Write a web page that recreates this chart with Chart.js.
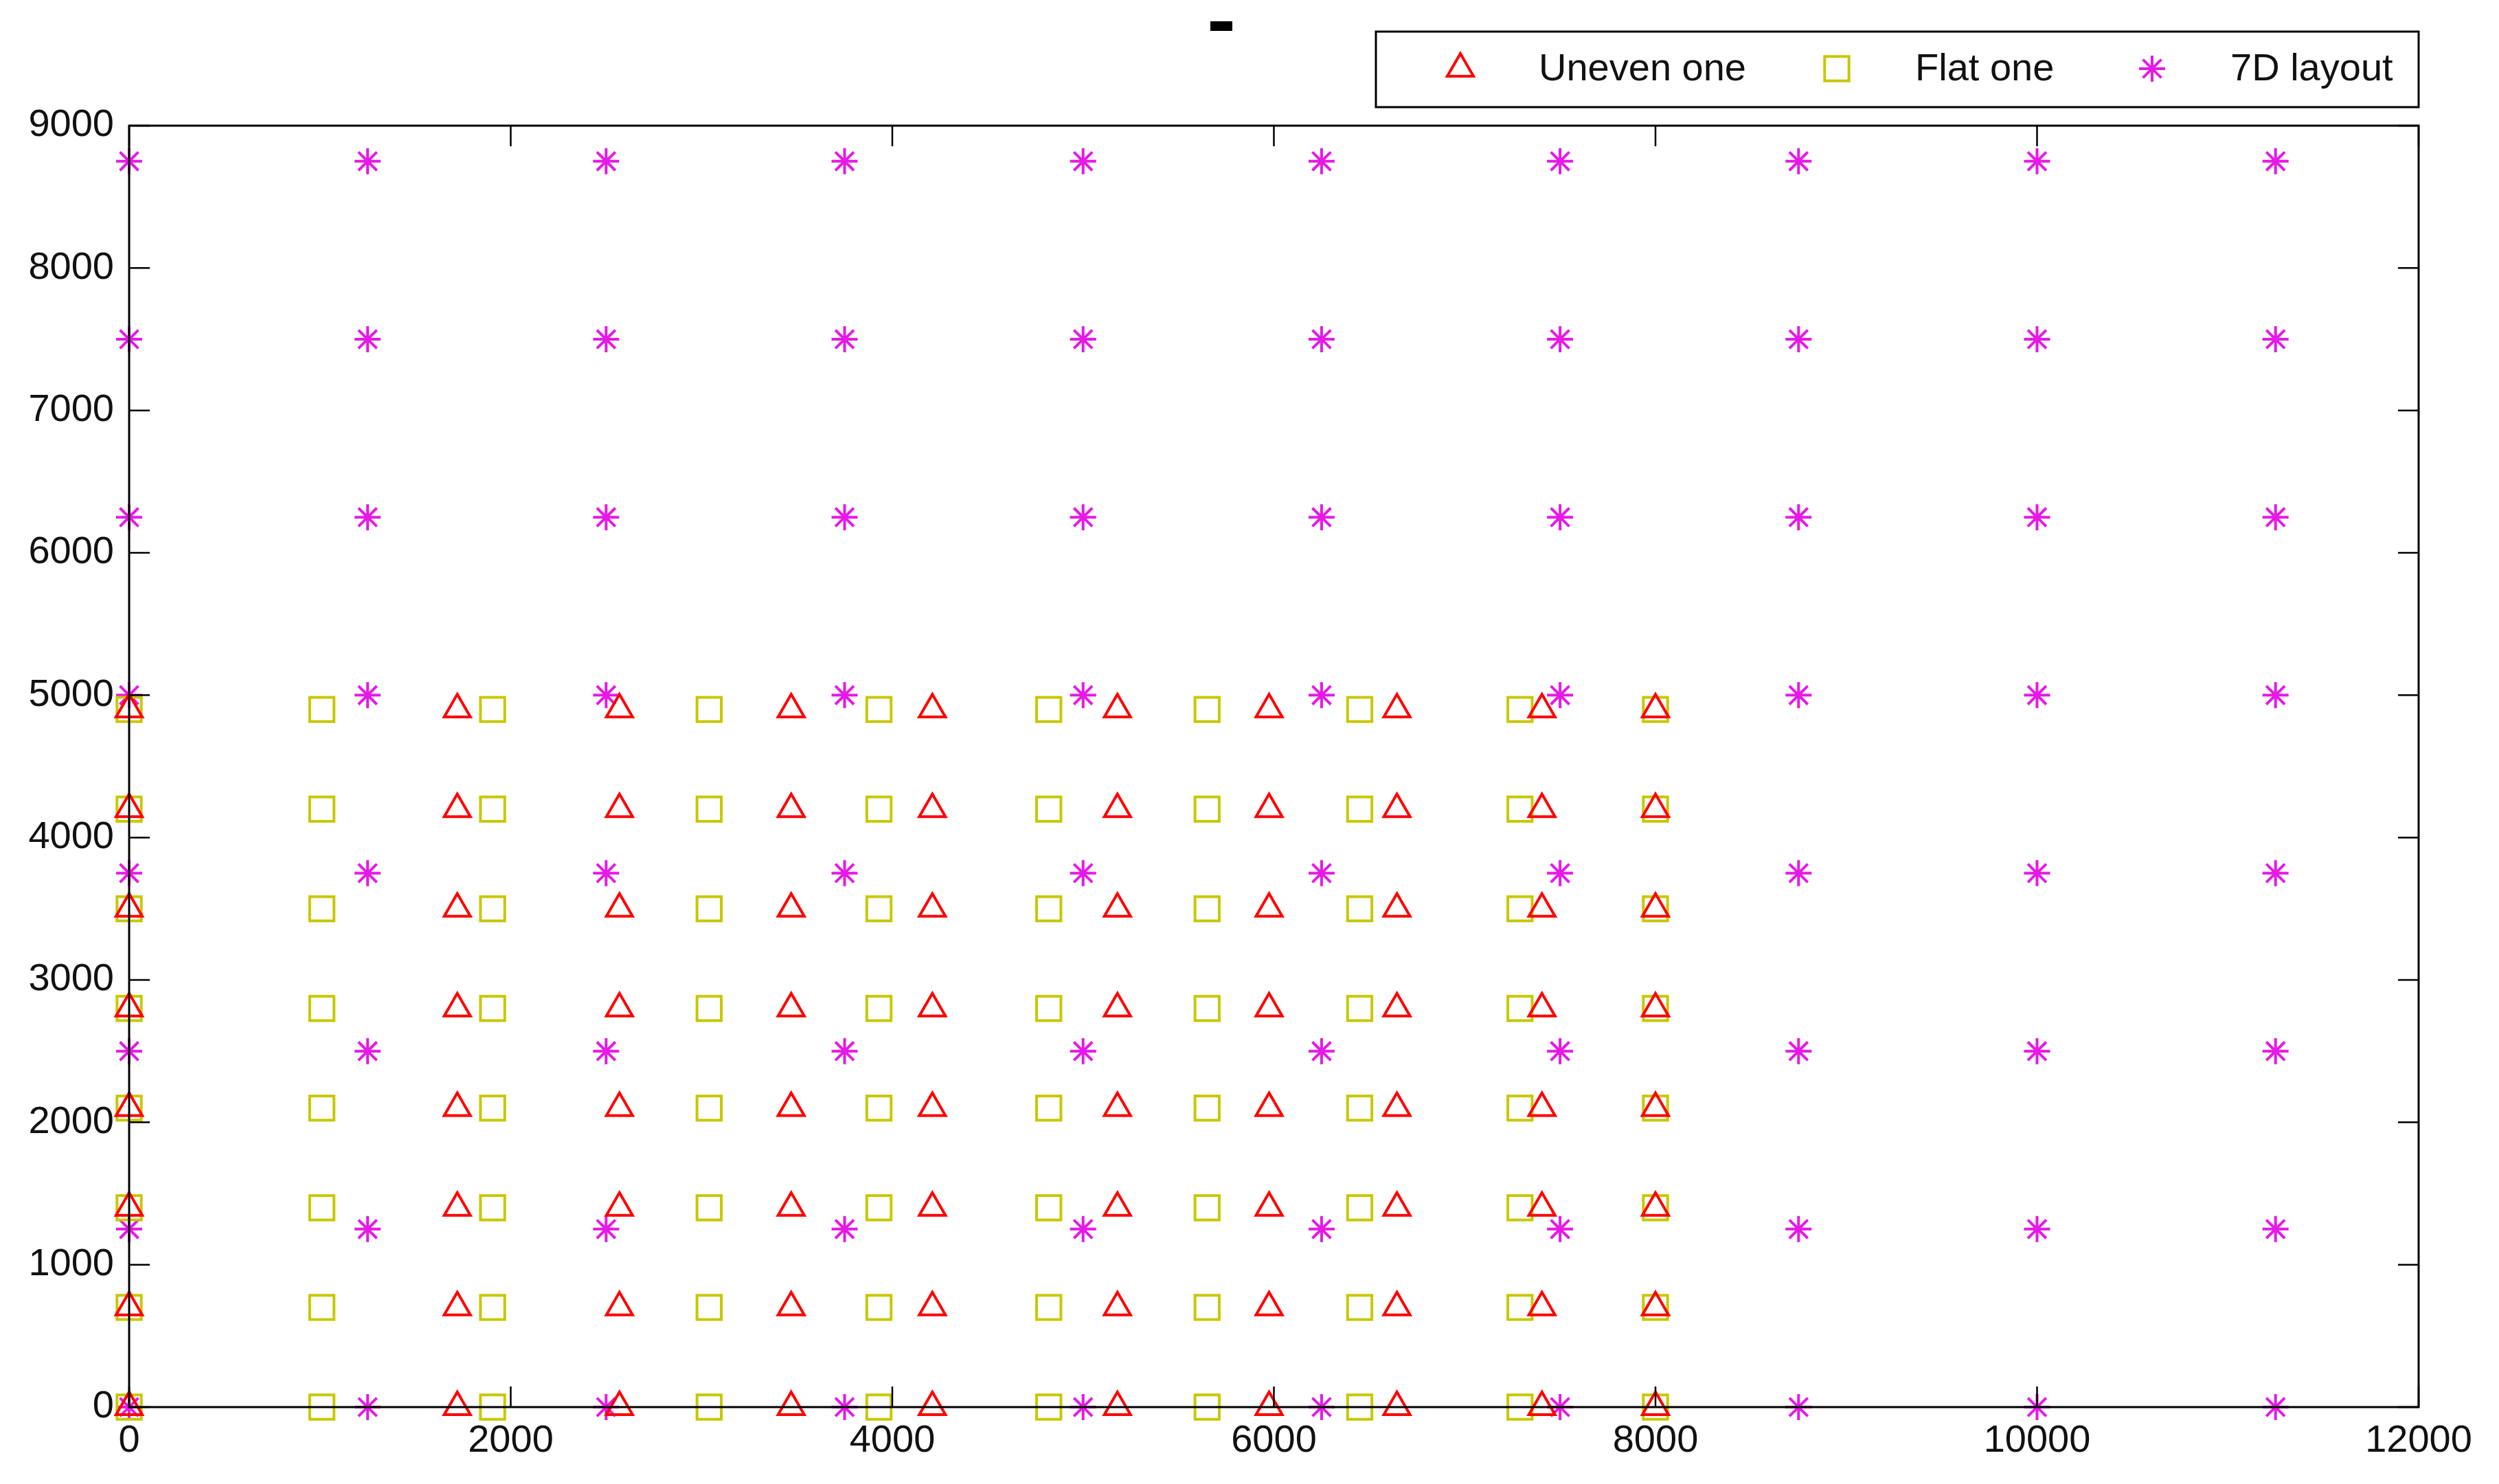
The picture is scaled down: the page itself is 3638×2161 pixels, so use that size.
<!DOCTYPE html>
<html>
<head>
<meta charset="utf-8">
<script src="https://cdn.jsdelivr.net/npm/chart.js@4/dist/chart.umd.min.js"></script>
<style>
  html, body { margin: 0; padding: 0; background: #fff; }
  #wrap { width: 3638px; height: 2161px; }
</style>
</head>
<body>
<div id="wrap"><canvas id="c"></canvas></div>
<script>
// datos
const yLevels = [0, 700, 1400, 2100, 2800, 3500, 4200, 4900];
const unevenX = [0, 1720, 2570, 3470, 4210, 5180, 5975, 6645, 7405, 8000];
const flatX = [0, 1010, 1905, 3040, 3930, 4820, 5650, 6450, 7290, 8000];
const starX = [0, 1250, 2500, 3750, 5000, 6250, 7500, 8750, 10000, 11250];
const starY = [0, 1250, 2500, 3750, 5000, 6250, 7500, 8750];
const xTicks = [0, 2000, 4000, 6000, 8000, 10000, 12000];
const yTicks = [0, 1000, 2000, 3000, 4000, 5000, 6000, 7000, 8000, 9000];
const seriesNames = ['Uneven one', 'Flat one', '7D layout'];

function grid(xs, ys) {
  const pts = [];
  xs.forEach(x => ys.forEach(y => pts.push({ x, y })));
  return pts;
}

const FONT = '56px "Liberation Sans", Arial, sans-serif';

// Dibuja marco, ticks internos, leyenda y título
const decor = {
  id: 'decor',
  afterDraw(chart) {
    const { ctx, chartArea: a, scales: { x, y } } = chart;
    ctx.save();
    ctx.strokeStyle = '#000';
    ctx.lineWidth = 3;
    ctx.strokeRect(a.left, a.top, a.right - a.left, a.bottom - a.top);
    ctx.lineWidth = 2.5;
    const t = 30;
    xTicks.forEach(v => {
      const px = x.getPixelForValue(v);
      ctx.beginPath();
      ctx.moveTo(px, a.bottom); ctx.lineTo(px, a.bottom - t);
      ctx.moveTo(px, a.top); ctx.lineTo(px, a.top + t);
      ctx.stroke();
    });
    yTicks.forEach(v => {
      const py = y.getPixelForValue(v);
      ctx.beginPath();
      ctx.moveTo(a.left, py); ctx.lineTo(a.left + t, py);
      ctx.moveTo(a.right, py); ctx.lineTo(a.right - t, py);
      ctx.stroke();
    });
    // leyenda
    ctx.lineWidth = 3;
    ctx.strokeRect(2003, 46, 1518, 110);
    const mx = [2126, 2674, 3133], tx = [2240, 2788, 3247];
    ctx.font = FONT;
    ctx.textBaseline = 'middle';
    chart.data.datasets.forEach((ds, i) => {
      ctx.strokeStyle = ds.borderColor;
      ctx.fillStyle = 'rgba(0,0,0,0)';
      ctx.lineWidth = ds.borderWidth;
      Chart.helpers.drawPoint(ctx, { pointStyle: ds.pointStyle, radius: ds.pointRadius, borderWidth: ds.borderWidth }, mx[i], 100);
      ctx.fillStyle = '#111';
      ctx.fillText(seriesNames[i], tx[i], 102);
    });
    // título (guion)
    ctx.fillStyle = '#000';
    ctx.fillRect(1762, 31, 32, 14);
    ctx.restore();
  }
};

const tickFont = { size: 56, family: '"Liberation Sans", Arial' };

new Chart(document.getElementById('c'), {
  type: 'scatter',
  data: {
    datasets: [
      { label: seriesNames[0], data: grid(unevenX, yLevels), pointStyle: 'triangle', pointRadius: 22,
        borderColor: '#ff0000', backgroundColor: 'rgba(0,0,0,0)', borderWidth: 4 },
      { label: seriesNames[1], data: grid(flatX, yLevels), pointStyle: 'rect', pointRadius: 25,
        borderColor: '#c8c800', backgroundColor: 'rgba(0,0,0,0)', borderWidth: 4 },
      { label: seriesNames[2], data: grid(starX, starY), pointStyle: 'star', pointRadius: 19,
        borderColor: '#e619e6', backgroundColor: 'rgba(0,0,0,0)', borderWidth: 4 }
    ]
  },
  options: {
    responsive: true,
    maintainAspectRatio: false,
    animation: false,
    clip: false,
    layout: { padding: { top: 183, right: 117, left: 0, bottom: 0 } },
    plugins: { legend: { display: false }, title: { display: false }, tooltip: { enabled: false } },
    scales: {
      x: {
        type: 'linear', min: 0, max: 12000,
        afterBuildTicks: s => { s.ticks = xTicks.map(v => ({ value: v })); },
        afterFit: s => { s.height = 112; },
        grid: { display: false },
        border: { display: false },
        ticks: { color: '#111', font: tickFont, padding: 8, maxRotation: 0, callback: v => String(v) }
      },
      y: {
        type: 'linear', min: 0, max: 9000,
        afterBuildTicks: s => { s.ticks = yTicks.map(v => ({ value: v })); },
        afterFit: s => { s.width = 188; },
        grid: { display: false },
        border: { display: false },
        ticks: { color: '#111', font: tickFont, padding: 14, callback: v => String(v) }
      }
    }
  },
  plugins: [decor]
});
</script>
</body>
</html>
